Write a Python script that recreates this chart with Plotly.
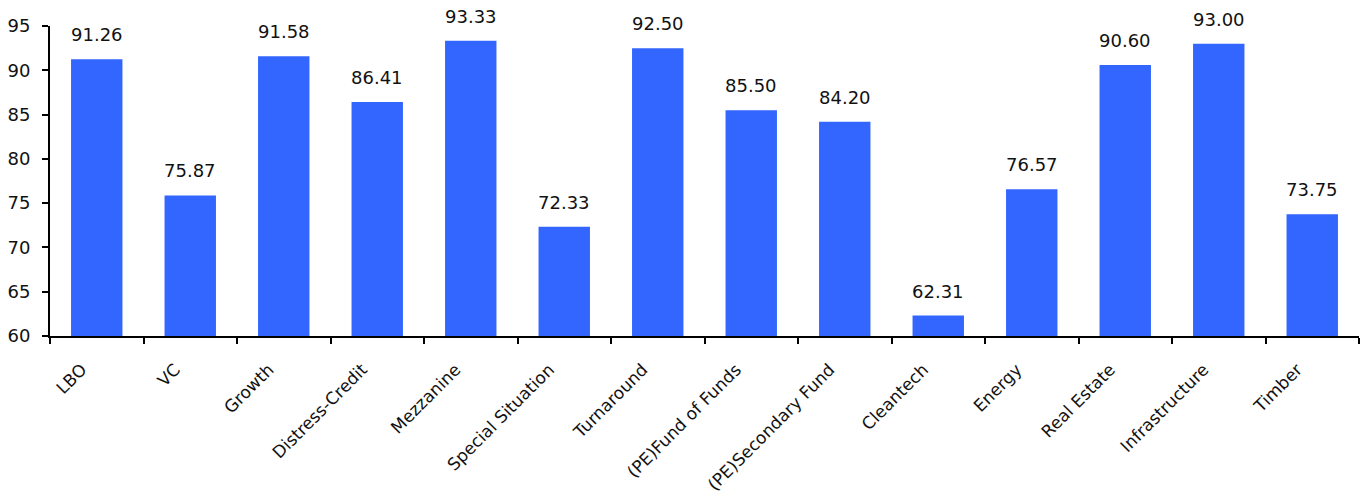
import plotly.graph_objects as go

categories = ["LBO", "VC", "Growth", "Distress-Credit", "Mezzanine", "Special Situation",
              "Turnaround", "(PE)Fund of Funds", "(PE)Secondary Fund", "Cleantech",
              "Energy", "Real Estate", "Infrastructure", "Timber"]
values = [91.26, 75.87, 91.58, 86.41, 93.33, 72.33, 92.50, 85.50, 84.20, 62.31,
          76.57, 90.60, 93.00, 73.75]
y_ticks = [60, 65, 70, 75, 80, 85, 90, 95]

FONT = "DejaVu Sans"
TXT = "#111111"

fig = go.Figure()
fig.add_trace(go.Bar(
    x=categories, y=values, base=0,
    marker=dict(color="#3366FF", line=dict(width=0)),
    width=0.55,
    hoverinfo="x+y",
))

for c, v in zip(categories, values):
    fig.add_annotation(x=c, y=v, text=f"{v:.2f}", showarrow=False,
                       yanchor="bottom", yshift=12,
                       font=dict(family=FONT, size=18, color=TXT))

fig.update_layout(
    width=1360, height=498,
    margin=dict(l=50, r=1, t=26, b=162),
    paper_bgcolor="white", plot_bgcolor="white",
    showlegend=False,
    bargap=0.45,
    font=dict(family=FONT, size=17, color=TXT),
)
fig.update_xaxes(
    type="category", tickangle=-45, tickson="boundaries",
    ticks="outside", ticklen=6, tickcolor="black", tickwidth=2,
    showline=True, linecolor="black", linewidth=2,
    ticklabelstandoff=15, ticklabelshift=-15,
    showgrid=False, tickfont=dict(family=FONT, size=17, color=TXT),
)
fig.update_yaxes(
    range=[60, 95], tickvals=y_ticks, ticks="outside", ticklen=6,
    tickcolor="black", tickwidth=2, showline=True, linecolor="black", linewidth=2,
    ticklabelstandoff=8,
    showgrid=False, zeroline=False, tickfont=dict(family=FONT, size=18, color=TXT),
)

fig.write_html("out.html")
